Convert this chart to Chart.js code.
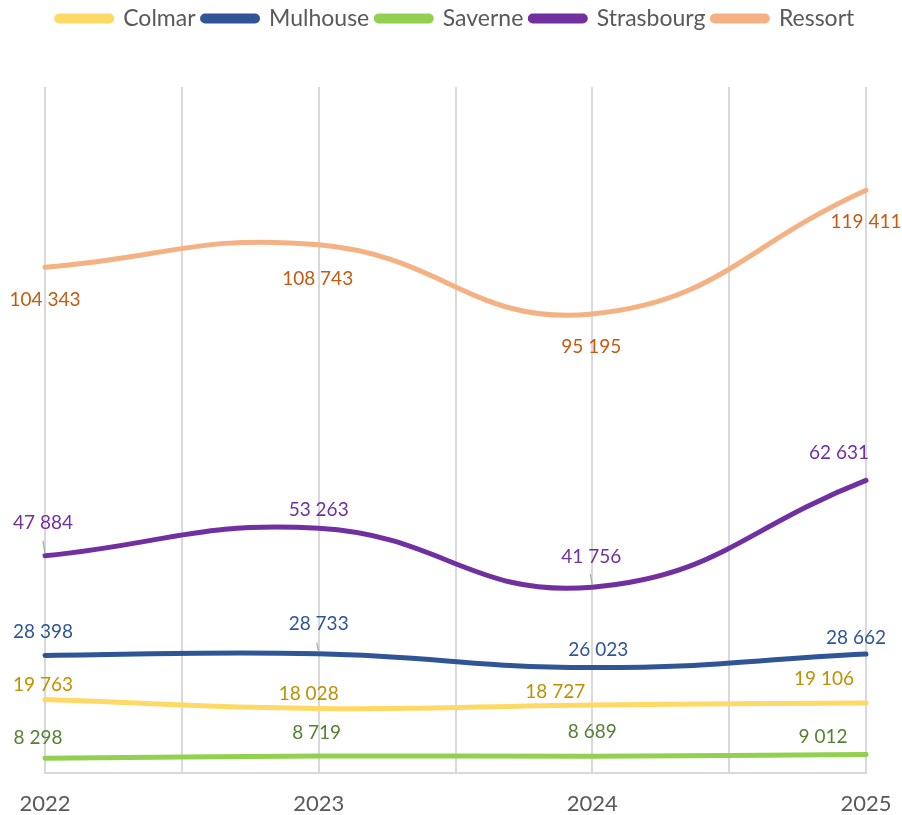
<!DOCTYPE html>
<html>
<head>
    <meta charset="utf-8"/>
    <title></title>
    <script src="https://cdn.jsdelivr.net/npm/chart.js"></script>
    <style>
      html, body { margin: 0; padding: 0; background: #fff; overflow: hidden; }
      #wrap { width: 902px; height: 815px; }
    </style>
</head>
<body>
    <div id="wrap"><canvas id="effectifs"></canvas></div>

    <script type="text/javascript">
      // Data
      const years = ['2022', '2023', '2024', '2025'];
      const colmar = [19763, 18028, 18727, 19106];
      const mulhouse = [28398, 28733, 26023, 28662];
      const saverne = [8298, 8719, 8689, 9012];
      const strasbourg = [47884, 53263, 41756, 62631];
      const ressort = [104343, 108743, 95195, 119411];

      // Label nudges [dx, dy, leader length] in pixels, per series (placement only)
      const labelNudges = {
        Colmar:     [[-2, -15, 0], [-10, -15, 0], [-37, -13, 0], [-42, -24, 0]],
        Mulhouse:   [[-2, -24, 0], [0, -30, 11], [6, -18, 0], [-10, -16, 0]],
        Saverne:    [[-7, -20, 0], [-2, -23, 0], [0, -24, 0], [-43, -18, 0]],
        Strasbourg: [[-2, -33, 15], [0, -18, 0], [-1, -30, 13], [-27, -28, 0]],
        Ressort:    [[0, 33, 0], [-1, 34, 0], [-1, 33, 0], [0, 32, 0]]
      };

      const FONT = 'Lato, "Open Sans", sans-serif';

      function points(values) {
        return values.map((v, i) => ({ x: i, y: v }));
      }

      function fmt(v) {
        return String(v).replace(/\B(?=(\d{3})+(?!\d))/g, ' ');
      }

      function series(label, values, color, labelColor) {
        return {
          label: label,
          data: points(values),
          borderColor: color,
          backgroundColor: color,
          borderWidth: 5,
          borderCapStyle: 'round',
          pointRadius: 0,
          pointHoverRadius: 0,
          tension: 0.45,
          clip: false,
          labelColor: labelColor
        };
      }

      // Draws the value labels (and the few leader lines) next to each point
      const valueLabels = {
        id: 'valueLabels',
        afterDatasetsDraw(chart) {
          const ctx = chart.ctx;
          ctx.save();
          ctx.font = '19px ' + FONT;
          ctx.textAlign = 'center';
          ctx.textBaseline = 'middle';
          chart.data.datasets.forEach((ds, di) => {
            const meta = chart.getDatasetMeta(di);
            const nudges = labelNudges[ds.label];
            meta.data.forEach((pt, i) => {
              const n = nudges[i];
              if (n[2]) {
                ctx.strokeStyle = '#A6A6A6';
                ctx.lineWidth = 1.2;
                ctx.beginPath();
                ctx.moveTo(pt.x, pt.y - 2);
                ctx.lineTo(pt.x - 2, pt.y - n[2]);
                ctx.stroke();
              }
              ctx.fillStyle = ds.labelColor;
              ctx.fillText(fmt(ds.data[i].y), pt.x + n[0], pt.y + n[1]);
            });
          });
          ctx.restore();
        }
      };

      // Extra space under the legend
      const legendGap = {
        id: 'legendGap',
        beforeInit(chart) {
          const fit = chart.legend.fit;
          chart.legend.fit = function () {
            fit.bind(chart.legend)();
            this.height += 47;
          };
        }
      };

      const ctx = document.getElementById('effectifs').getContext('2d');
      const chart = new Chart(ctx, {
        type: 'line',
        data: {
          datasets: [
            series('Colmar', colmar, '#FFD966', '#BF9000'),
            series('Mulhouse', mulhouse, '#2F5597', '#2F5597'),
            series('Saverne', saverne, '#92D050', '#548235'),
            series('Strasbourg', strasbourg, '#7030A0', '#7030A0'),
            series('Ressort', ressort, '#F4B183', '#C55A11')
          ]
        },
        options: {
          responsive: true,
          maintainAspectRatio: false,
          animation: false,
          layout: {
            padding: { left: 45, right: 36, top: 0, bottom: 0 }
          },
          plugins: {
            tooltip: { enabled: false },
            legend: {
              display: true,
              position: 'top',
              labels: {
                boxWidth: 55,
                boxHeight: 5,
                useBorderRadius: true,
                borderRadius: 2.5,
                padding: 7,
                color: '#595959',
                font: { family: FONT, size: 23 }
              }
            }
          },
          scales: {
            x: {
              type: 'linear',
              min: 0,
              max: 3,
              offset: false,
              grid: {
                color: '#D9D9D9',
                lineWidth: 2,
                drawTicks: false
              },
              border: { color: '#D9D9D9', width: 2 },
              ticks: {
                stepSize: 0.5,
                autoSkip: false,
                maxRotation: 0,
                padding: 18,
                color: '#595959',
                font: { family: FONT, size: 22 },
                callback: function (value) {
                  return Number.isInteger(value) ? years[value] : '';
                }
              },
              afterFit: function (scale) {
                scale.height = 42;
                // the year labels may spill into the side margins
                scale.paddingLeft = 0;
                scale.paddingRight = 0;
              }
            },
            y: {
              display: false,
              min: 5400,
              max: 139600
            }
          }
        },
        plugins: [valueLabels, legendGap]
      });
    </script>
</body>
</html>
